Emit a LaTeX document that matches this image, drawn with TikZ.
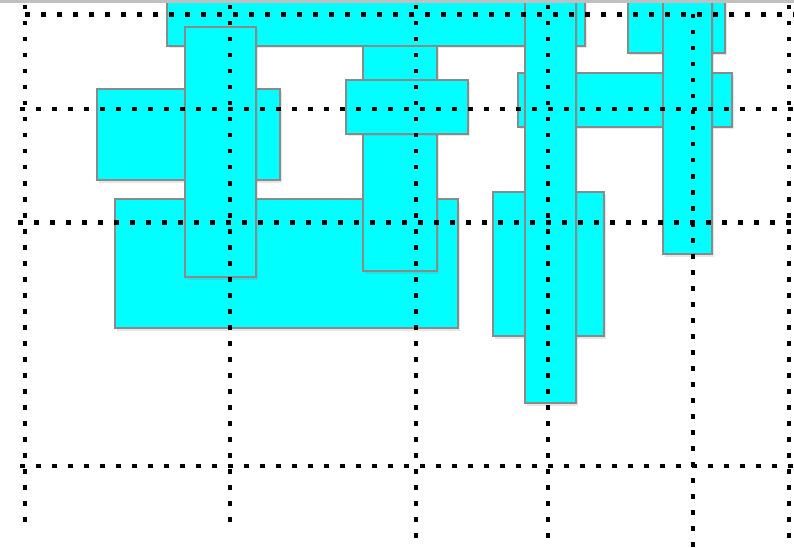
\documentclass[tikz,border=0pt]{standalone}
\usepackage{tikz}
\usetikzlibrary{shadows}
\definecolor{barCyan}{HTML}{00FFFF}
\definecolor{edgeGray}{HTML}{8A8A8A}
\definecolor{bandGray}{HTML}{C0C0C0}
\tikzset{
  bar/.style={fill=barCyan, draw=edgeGray, line width=2.5pt,
    drop shadow={opacity=0.2, shadow xshift=1.5pt, shadow yshift=-2.5pt}},
  gridline/.style={line width=4.5pt, dash pattern=on 4.5pt off 11.5pt, black}
}
\begin{document}
\begin{tikzpicture}[x=1pt, y=-1pt]
        \useasboundingbox (0,0) rectangle (794,548);
        % blocks, back to front
        \draw[bar] (167,-10) rectangle (585,46);
        \draw[bar] (97,89) rectangle (280,180);
        \draw[bar] (115,199) rectangle (458,328);
        \draw[bar] (185,27) rectangle (256,277);
        \draw[bar] (363,46) rectangle (437,271);
        \draw[bar] (346,80) rectangle (468,134);
        \draw[bar] (518,73) rectangle (732,127);
        \draw[bar] (493,192) rectangle (604,336);
        \draw[bar] (628,-10) rectangle (725,53);
        \draw[bar] (525,-10) rectangle (576,403);
        \draw[bar] (663,-10) rectangle (712,254);
        % dotted grid
        \draw[gridline] (25,14.5) -- (794,14.5);
        \draw[gridline] (20,109) -- (794,109);
        \draw[gridline] (18,222.5) -- (794,222.5);
        \draw[gridline] (20,466) -- (794,466);
        \draw[gridline] (25,5) -- (25,522);
        \draw[gridline] (230,5) -- (230,522);
        \draw[gridline] (416,5) -- (416,538);
        \draw[gridline] (548,5) -- (548,540);
        \draw[gridline] (693,14) -- (693,548);
        \draw[gridline] (789,5) -- (789,548);
        % window edge
        \fill[bandGray] (0,0) rectangle (794,3.5);
      \end{tikzpicture}
\end{document}
